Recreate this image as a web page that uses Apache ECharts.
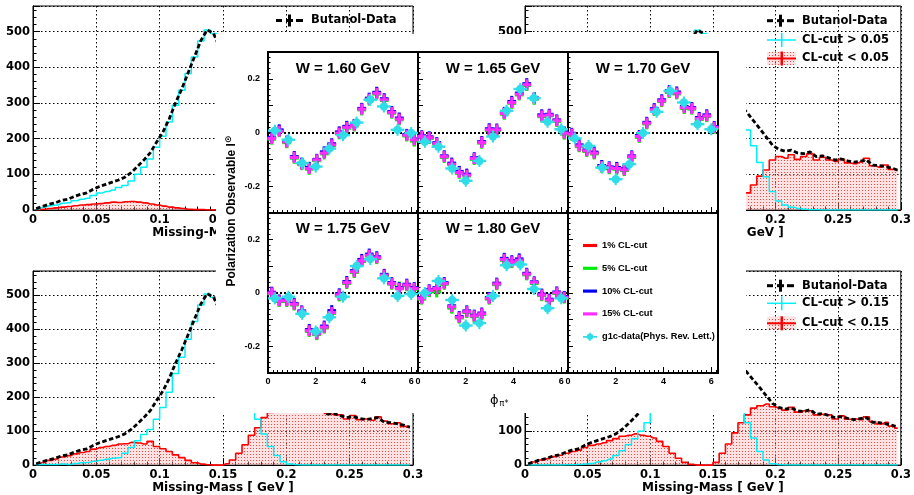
<!DOCTYPE html>
<html><head><meta charset="utf-8">
<script src="https://cdn.jsdelivr.net/npm/echarts@6.0.0/dist/echarts.min.js"></script>
<style>html,body{margin:0;padding:0;background:#fff}#c{width:914px;height:495px}</style>
</head><body><div id="c"></div>
<script>
// ---------------- Missing-mass histograms (bins of 0.005 GeV from 0 to 0.3) ----------------
const massBinWidth = 0.005;
const massTickLabels = ['0', '0.05', '0.1', '0.15', '0.2', '0.25', '0.3'];
const butanolData = [4,10,16,20,27,30,38,44,48,58, 66,72,78,84,92,105,122,140,160,190,
  218,255,300,340,385,430,475,505,495,455, 410,370,340,315,292,272,250,228,205,182,
  170,165,168,160,158,163,150,152,146,140, 143,138,134,137,140,126,125,122,118,112];
// CL-cut 0.01 (top-left)
const clAbove001 = [3,8,12,14,19,20,26,30,33,41, 48,52,56,63,69,81,100,120,143,176,
  207,247,294,336,383,429,474,505,495,455, 410,369,337,307,276,242,202,160,120,82,
  60,50,50,48,43,45,42,40,40,37, 37,38,36,37,36,33,33,28,30,27];
const clBelow001 = [1,2,4,6,8,10,12,14,15,17, 18,20,22,21,23,24,22,20,17,14,
  11,8,6,4,2,1,1,0,0,0, 0,1,3,8,16,30,48,68,85,100,
  110,115,118,112,115,118,108,112,106,103, 106,100,98,100,104,93,92,94,88,85];
// CL-cut 0.05 (top-right)
const clAbove005 = [3,6,12,16,21,24,30,35,38,45, 50,54,58,62,66,75,88,104,125,155,
  190,230,282,328,378,426,474,504,495,455, 410,367,332,299,264,224,180,133,93,52,
  25,14,8,4,2,1,1,0,0,0, 0,0,0,0,0,0,0,0,0,0];
const clBelow005 = [1,4,8,11,15,18,22,25,28,32, 35,38,40,42,44,45,46,45,42,38,
  33,27,20,14,8,4,2,1,0,0, 0,3,8,16,28,48,70,95,112,140,
  150,145,155,142,150,158,140,148,140,136, 142,132,130,135,145,124,120,126,114,110];
// CL-cut 0.10 (bottom-left)
const clAbove010 = [1,2,2,2,3,2,5,7,8,11, 14,17,20,22,35,52,72,90,105,135,
  170,215,270,318,371,423,472,504,495,455, 395,335,280,230,180,135,92,55,28,10,
  3,1,0,0,0,0,0,0,0,0, 0,0,0,0,0,0,0,0,0,0];
const clBelow010 = [3,8,14,18,24,28,33,37,40,47, 52,55,58,62,63,67,65,62,70,55,
  48,40,30,22,14,7,3,1,0,0, 4,15,35,60,88,110,140,155,162,166,
  168,160,170,156,160,158,152,148,148,136, 146,134,136,132,142,130,122,125,114,110];
// CL-cut 0.15 (bottom-right)
const clAbove015 = [0,0,0,0,0,0,1,1,2,3, 5,9,13,18,28,42,60,78,100,125,
  165,205,255,305,365,422,473,505,495,455, 400,335,278,220,170,125,80,40,15,4,
  1,0,0,0,0,0,0,0,0,0, 0,0,0,0,0,0,0,0,0,0];
const clBelow015 = [3,9,15,19,25,29,35,40,44,52, 58,62,66,72,78,85,88,92,88,85,
  80,70,55,35,20,8,2,0,0,0, 8,35,62,95,125,148,168,175,180,172,
  168,162,170,156,160,160,148,150,148,136, 145,135,136,134,142,128,121,126,115,109];

// ---------------- Polarization observable (inset) ----------------
const wTitles = ['W = 1.60 GeV', 'W = 1.65 GeV', 'W = 1.70 GeV', 'W = 1.75 GeV', 'W = 1.80 GeV'];
const phiCL = [0.157,0.471,0.785,1.100,1.414,1.728,2.042,2.356,2.670,2.985,
  3.299,3.613,3.927,4.241,4.555,4.869,5.184,5.498,5.812,6.126];
const phiG1c = [0.286,0.857,1.428,2.000,2.571,3.142,3.713,4.284,4.855,5.427,5.998];

const cl1_160  = [-0.020,0.007,-0.036,-0.091,-0.116,-0.133,-0.104,-0.075,-0.044,0.001,0.021,0.029,0.088,0.125,0.147,0.123,0.076,0.052,-0.011,-0.029];
const cl5_160  = [-0.025,0.003,-0.038,-0.096,-0.120,-0.137,-0.105,-0.080,-0.049,-0.005,0.016,0.024,0.084,0.121,0.143,0.119,0.072,0.047,-0.013,-0.032];
const cl10_160 = [-0.018,0.010,-0.032,-0.090,-0.114,-0.130,-0.100,-0.072,-0.042,0.002,0.023,0.030,0.090,0.128,0.150,0.126,0.078,0.054,-0.007,-0.024];
const cl15_160 = [-0.022,0.005,-0.035,-0.093,-0.118,-0.134,-0.102,-0.077,-0.046,-0.002,0.019,0.027,0.087,0.124,0.146,0.122,0.075,0.050,-0.010,-0.027];
const g1c_160  = [0.007,-0.027,-0.114,-0.127,-0.060,-0.010,0.037,0.122,0.097,0.010,-0.002];

const cl1_165  = [-0.016,-0.020,-0.040,-0.089,-0.117,-0.147,-0.157,-0.098,-0.036,0.011,0.009,0.072,0.111,0.144,0.176,0.126,0.063,0.064,0.045,-0.004];
const cl5_165  = [-0.018,-0.022,-0.044,-0.093,-0.121,-0.152,-0.162,-0.100,-0.040,0.007,0.007,0.068,0.109,0.140,0.175,0.124,0.059,0.062,0.041,-0.006];
const cl10_165 = [-0.012,-0.016,-0.038,-0.087,-0.114,-0.145,-0.155,-0.094,-0.034,0.014,0.013,0.075,0.116,0.147,0.182,0.130,0.066,0.068,0.047,0.002];
const cl15_165 = [-0.015,-0.019,-0.041,-0.090,-0.118,-0.149,-0.159,-0.097,-0.037,0.010,0.010,0.071,0.112,0.143,0.178,0.127,0.062,0.065,0.044,-0.002];
const g1c_165  = [-0.035,-0.053,-0.134,-0.180,-0.106,-0.015,0.081,0.162,0.128,0.040,0.012];

const cl1_170  = [-0.008,-0.051,-0.067,-0.078,-0.125,-0.133,-0.132,-0.140,-0.092,-0.016,0.034,0.086,0.117,0.150,0.145,0.092,0.091,0.050,0.061,0.018];
const cl5_170  = [-0.010,-0.053,-0.071,-0.080,-0.130,-0.135,-0.137,-0.142,-0.093,-0.018,0.032,0.082,0.115,0.149,0.144,0.090,0.087,0.049,0.059,0.016];
const cl10_170 = [-0.003,-0.046,-0.065,-0.073,-0.123,-0.128,-0.130,-0.135,-0.087,-0.011,0.038,0.089,0.122,0.156,0.151,0.097,0.093,0.056,0.066,0.022];
const cl15_170 = [-0.006,-0.050,-0.068,-0.077,-0.127,-0.131,-0.134,-0.139,-0.090,-0.015,0.035,0.085,0.118,0.152,0.147,0.093,0.090,0.052,0.062,0.019];
const g1c_170  = [-0.022,-0.050,-0.131,-0.174,-0.118,-0.002,0.077,0.155,0.112,0.031,0.012];

const cl1_175  = [-0.001,-0.030,-0.028,-0.043,-0.071,-0.142,-0.154,-0.130,-0.074,-0.009,0.037,0.079,0.120,0.141,0.131,0.066,0.035,0.016,0.029,0.016];
const cl5_175  = [-0.003,-0.032,-0.032,-0.045,-0.073,-0.144,-0.156,-0.131,-0.076,-0.011,0.036,0.077,0.118,0.139,0.129,0.064,0.033,0.022,0.027,0.014];
const cl10_175 = [0.003,-0.026,-0.026,-0.039,-0.067,-0.137,-0.150,-0.124,-0.066,-0.003,0.043,0.084,0.126,0.146,0.136,0.070,0.039,0.020,0.033,0.020];
const cl15_175 = [0.000,-0.029,-0.029,-0.042,-0.070,-0.141,-0.153,-0.128,-0.073,-0.007,0.039,0.080,0.121,0.142,0.132,0.067,0.036,0.017,0.030,0.017];
const g1c_175  = [-0.020,-0.014,-0.078,-0.144,-0.091,-0.014,0.101,0.127,0.055,-0.011,-0.004];

const cl1_180  = [-0.021,0.007,0.012,0.035,-0.054,-0.092,-0.071,-0.087,-0.079,-0.021,0.033,0.125,0.116,0.122,0.070,0.038,-0.008,-0.027,0.000,-0.017];
const cl5_180  = [-0.023,0.005,0.004,0.033,-0.057,-0.094,-0.073,-0.089,-0.081,-0.023,0.031,0.123,0.114,0.120,0.068,0.036,-0.010,-0.029,-0.002,-0.019];
const cl10_180 = [-0.017,0.012,0.020,0.039,-0.048,-0.088,-0.067,-0.083,-0.075,-0.017,0.037,0.130,0.121,0.128,0.074,0.042,-0.004,-0.023,0.004,-0.013];
const cl15_180 = [-0.020,0.009,0.017,0.036,-0.051,-0.091,-0.070,-0.086,-0.078,-0.020,0.034,0.126,0.117,0.123,0.071,0.039,-0.007,-0.026,0.001,-0.016];
const g1c_180  = [0.000,0.045,-0.026,-0.122,-0.113,-0.011,0.104,0.107,0.015,-0.057,-0.020];

const clNames = ['1% CL-cut', '5% CL-cut', '10% CL-cut', '15% CL-cut'];
const g1cName = 'g1c-data(Phys. Rev. Lett.)';

// ---------------- build chart ----------------
const pc = document.createElement('canvas'); pc.width = 3; pc.height = 3;
const pg = pc.getContext('2d');
pg.fillStyle = 'rgba(255,175,175,0.35)'; pg.fillRect(0, 0, 3, 3);
pg.fillStyle = 'rgba(255,40,40,0.85)'; pg.fillRect(1, 1, 1, 1);
const redPattern = { image: pc, repeat: 'repeat' };

const HF = 'DejaVu Sans';
const IF = 'Liberation Sans';
const CYAN = '#00f0f8';
const G1C = '#2fdde8';
const clColors = ['#ff0000', '#00ee00', '#0000ff', '#ff2bff'];

const histPanels = [
  { grid: { left: 33, top: 6, width: 380, height: 204 }, above: clAbove001, below: clBelow001, cut: '0.01' },
  { grid: { left: 525, top: 6, width: 378, height: 204 }, above: clAbove005, below: clBelow005, cut: '0.05' },
  { grid: { left: 33, top: 271, width: 380, height: 203 }, above: clAbove010, below: clBelow010, cut: '0.10' },
  { grid: { left: 525, top: 271, width: 378, height: 203 }, above: clAbove015, below: clBelow015, cut: '0.15' }
];
const insetPanels = [
  { grid: { left: 268, top: 52, width: 150, height: 161 }, cl: [cl1_160, cl5_160, cl10_160, cl15_160], g1c: g1c_160, title: wTitles[0], col: 0, row: 0 },
  { grid: { left: 418, top: 52, width: 150, height: 161 }, cl: [cl1_165, cl5_165, cl10_165, cl15_165], g1c: g1c_165, title: wTitles[1], col: 1, row: 0 },
  { grid: { left: 568, top: 52, width: 150, height: 161 }, cl: [cl1_170, cl5_170, cl10_170, cl15_170], g1c: g1c_170, title: wTitles[2], col: 2, row: 0 },
  { grid: { left: 268, top: 213, width: 150, height: 160 }, cl: [cl1_175, cl5_175, cl10_175, cl15_175], g1c: g1c_175, title: wTitles[3], col: 0, row: 1 },
  { grid: { left: 418, top: 213, width: 150, height: 160 }, cl: [cl1_180, cl5_180, cl10_180, cl15_180], g1c: g1c_180, title: wTitles[4], col: 1, row: 1 },
  { grid: { left: 568, top: 213, width: 150, height: 160 }, cl: null, g1c: null, title: null, col: 2, row: 1 }
];

const grids = [], xAxes = [], yAxes = [], series = [];
const histLabel = { fontFamily: HF, fontWeight: 'bold', fontSize: 11.5, color: '#000' };
const dotted = { color: '#000', type: [1.5, 2.5], width: 1 };

histPanels.forEach((p, i) => {
  grids.push(Object.assign({ show: true, borderColor: '#000', borderWidth: 1, backgroundColor: 'transparent', z: 0 }, p.grid));
  xAxes.push({
    type: 'value', gridIndex: i, min: 0, max: 0.3, interval: 0.05, z: 0,
    axisLine: { show: true, onZero: false, lineStyle: { color: '#000', width: 1 } },
    axisTick: { inside: true, length: 7, lineStyle: { color: '#000' } },
    minorTick: { show: true, splitNumber: 5, length: 3.5, lineStyle: { color: '#000' } },
    splitLine: { show: true, lineStyle: dotted },
    axisLabel: Object.assign({ margin: 4, formatter: v => massTickLabels[Math.round(v / 0.05)] || '' }, histLabel),
    name: 'Missing-Mass [ GeV ]', nameLocation: 'middle', nameGap: 10,
    nameTextStyle: { fontFamily: HF, fontWeight: 'bold', fontSize: 12, color: '#000' }
  });
  yAxes.push({
    type: 'value', gridIndex: i, min: 0, max: 572, interval: 100, z: 0,
    axisLine: { show: true, onZero: false, lineStyle: { color: '#000', width: 1 } },
    axisTick: { inside: true, length: 7, lineStyle: { color: '#000' } },
    minorTick: { show: true, splitNumber: 5, length: 3.5, lineStyle: { color: '#000' } },
    splitLine: { show: true, lineStyle: dotted },
    axisLabel: Object.assign({ margin: 3, showMaxLabel: false }, histLabel)
  });
  const pts = arr => arr.map((v, k) => [massBinWidth * (k + 0.5), v]);
  series.push({
    name: 'CL-cut < ' + p.cut, type: 'line', step: 'middle', xAxisIndex: i, yAxisIndex: i, z: 1,
    data: pts(p.below), symbol: 'none', silent: true,
    lineStyle: { color: '#ff0000', width: 1.6 }, areaStyle: { color: redPattern, opacity: 1 }
  });
  series.push({
    name: 'CL-cut > ' + p.cut, type: 'line', step: 'middle', xAxisIndex: i, yAxisIndex: i, z: 1,
    data: pts(p.above), symbol: 'none', silent: true,
    lineStyle: { color: CYAN, width: 1.5 }
  });
  series.push({
    name: 'Butanol-Data', type: 'line', xAxisIndex: i, yAxisIndex: i, z: 2,
    data: pts(butanolData), symbol: 'none', silent: true,
    lineStyle: { color: '#000', width: 2.8, type: [4.5, 2.5] }
  });
});

function crossRender(color) {
  return function (params, api) {
    const c = api.coord([api.value(0), api.value(1)]);
    const hw = api.size([0.157, 0])[0] + 0.6;
    return { type: 'group', children: [
      { type: 'rect', shape: { x: c[0] - hw, y: c[1] - 1.5, width: 2 * hw, height: 3 }, style: { fill: color } },
      { type: 'rect', shape: { x: c[0] - 1.5, y: c[1] - 5.5, width: 3, height: 11 }, style: { fill: color } }
    ] };
  };
}
function g1cRender(params, api) {
  const c = api.coord([api.value(0), api.value(1)]);
  const hw = api.size([0.2856, 0])[0];
  return { type: 'group', children: [
    { type: 'rect', shape: { x: c[0] - hw, y: c[1] - 1.2, width: 2 * hw, height: 2.4 }, style: { fill: G1C } },
    { type: 'rect', shape: { x: c[0] - 1, y: c[1] - 6, width: 2, height: 12 }, style: { fill: G1C } },
    { type: 'circle', shape: { cx: c[0], cy: c[1], r: 4.2 }, style: { fill: G1C } }
  ] };
}

const insetLabel = { fontFamily: IF, fontWeight: 'bold', fontSize: 9, color: '#000' };
insetPanels.forEach((p, j) => {
  const gi = 4 + j;
  grids.push(Object.assign({ show: true, borderColor: '#000', borderWidth: 2, backgroundColor: 'transparent', z: 4 }, p.grid));
  xAxes.push({
    type: 'value', gridIndex: gi, min: 0, max: 6.2832, interval: 2, z: 4, position: 'bottom',
    axisLine: { show: false, onZero: false },
    axisTick: { inside: true, length: 6, lineStyle: { color: '#000' } },
    minorTick: { show: true, splitNumber: 10, length: 3, lineStyle: { color: '#000' } },
    splitLine: { show: false },
    axisLabel: Object.assign({ show: p.row === 1, margin: 4, showMaxLabel: false,
      formatter: v => { const r = Math.round(v); return (Math.abs(v - r) < 1e-6 && r % 2 === 0) ? String(r) : ''; } }, insetLabel)
  });
  yAxes.push({
    type: 'value', gridIndex: gi, min: -0.3, max: 0.3, interval: 0.1, z: 4, position: 'left',
    axisLine: { show: false, onZero: false },
    axisTick: { inside: true, length: 5, lineStyle: { color: '#000' } },
    minorTick: { show: true, splitNumber: 5, length: 2.5, lineStyle: { color: '#000' } },
    splitLine: { show: false },
    axisLabel: Object.assign({ show: p.col === 0, margin: 8,
      formatter: v => { const k = Math.round(v * 10); return (k % 2 === 0) ? (k === 0 ? '0' : (k / 10).toString()) : ''; } }, insetLabel)
  });
  if (p.cl) {
    p.cl.forEach((arr, s) => {
      const ser = {
        name: clNames[s], type: 'custom', coordinateSystem: 'cartesian2d', xAxisIndex: gi, yAxisIndex: gi,
        z: 5 + s * 0.1, silent: true, itemStyle: { color: clColors[s] },
        renderItem: crossRender(clColors[s]),
        data: arr.map((v, k) => [phiCL[k], v])
      };
      if (s === 0) {
        ser.markLine = { silent: true, symbol: ['none', 'none'], label: { show: false },
          lineStyle: { color: '#000', type: [2, 2], width: 2 }, data: [{ yAxis: 0 }] };
      }
      series.push(ser);
    });
    series.push({
      name: g1cName, type: 'custom', coordinateSystem: 'cartesian2d', xAxisIndex: gi, yAxisIndex: gi,
      z: 6, silent: true, itemStyle: { color: G1C }, renderItem: g1cRender,
      data: p.g1c.map((v, k) => [phiG1c[k], v])
    });
  }
});

// legend-like graphics for the histogram panels
function butanolIcon(x0, y) {
  return [
    { type: 'rect', shape: { x: x0, y: y - 1.5, width: 6, height: 3 }, style: { fill: '#000' }, z: 3 },
    { type: 'rect', shape: { x: x0 + 10, y: y - 1.5, width: 7, height: 3 }, style: { fill: '#000' }, z: 3 },
    { type: 'rect', shape: { x: x0 + 12, y: y - 6, width: 3, height: 12 }, style: { fill: '#000' }, z: 3 },
    { type: 'rect', shape: { x: x0 + 20, y: y - 1.5, width: 7, height: 3 }, style: { fill: '#000' }, z: 3 }
  ];
}
function cyanIcon(x0, y) {
  return [
    { type: 'rect', shape: { x: x0, y: y - 0.75, width: 29, height: 1.5 }, style: { fill: CYAN }, z: 3 },
    { type: 'rect', shape: { x: x0 + 14, y: y - 7, width: 1.5, height: 14 }, style: { fill: CYAN }, z: 3 }
  ];
}
function redIcon(x0, y) {
  return [
    { type: 'rect', shape: { x: x0, y: y - 6.5, width: 29, height: 13 }, style: { fill: redPattern }, z: 3 },
    { type: 'rect', shape: { x: x0, y: y - 1, width: 29, height: 2 }, style: { fill: '#ff0000' }, z: 3 },
    { type: 'rect', shape: { x: x0 + 13.5, y: y - 7, width: 2.5, height: 14 }, style: { fill: '#ff0000' }, z: 3 }
  ];
}
function legText(x, y, t) {
  return { type: 'text', x: x, y: y, z: 3,
    style: { text: t, font: 'bold 11.5px "DejaVu Sans"', fill: '#000', textAlign: 'left', textVerticalAlign: 'middle', align: 'left', verticalAlign: 'middle' } };
}
const gEls = [];
gEls.push(...butanolIcon(276, 20.5), legText(311, 20.5, 'Butanol-Data'));
[[767, [20.7, 40, 58.5], '0.05'], [767, [285.7, 303.3, 323.3], '0.15']].forEach(([x0, ys, cut]) => {
  gEls.push(...butanolIcon(x0, ys[0]), legText(x0 + 35, ys[0], 'Butanol-Data'));
  gEls.push(...cyanIcon(x0, ys[1]), legText(x0 + 35, ys[1], 'CL-cut > ' + cut));
  gEls.push(...redIcon(x0, ys[2]), legText(x0 + 35, ys[2], 'CL-cut < ' + cut));
});
// white inset background
gEls.push({ type: 'rect', shape: { x: 216, y: 34, width: 530, height: 379 }, style: { fill: '#fff' }, z: 3, silent: true });
// inset titles
insetPanels.forEach(p => {
  if (!p.title) return;
  gEls.push({ type: 'text', x: p.grid.left + p.grid.width / 2, y: p.row === 0 ? 68.5 : 229, z: 10,
    style: { text: p.title, font: 'bold 15px "Liberation Sans"', fill: '#000', textAlign: 'center', textVerticalAlign: 'middle', align: 'center', verticalAlign: 'middle' } });
});
gEls.push({ type: 'text', x: 232, y: 211, rotation: Math.PI / 2, z: 10,
  style: { text: 'Polarization Observable I{s|⊙}', font: 'bold 12px "Liberation Sans"', fill: '#000',
    textAlign: 'center', textVerticalAlign: 'middle', align: 'center', verticalAlign: 'middle',
    rich: { s: { fontSize: 9, fontWeight: 'bold', fontFamily: 'DejaVu Sans', padding: [0, 0, 6, 0] } } } });
gEls.push({ type: 'text', x: 490, y: 401, z: 10,
  style: { text: '{a|ϕ}{b|π*}', fill: '#000', textAlign: 'left', textVerticalAlign: 'middle', align: 'left', verticalAlign: 'middle',
    rich: { a: { fontSize: 13, fontFamily: 'DejaVu Sans' }, b: { fontSize: 8, fontFamily: 'DejaVu Sans', padding: [6, 0, 0, 1] } } } });

const lineIcon = 'path://M0,0h20v4.5h-20z';
const g1cIcon = 'path://M0,5h20v2.4h-20z M9,0h2v12h-2z M10,1.6a4.5,4.5 0 1 1 0,9a4.5,4.5 0 1 1 0,-9z';

const chart = echarts.init(document.getElementById('c'), null, { renderer: 'canvas' });
chart.setOption({
  animation: false,
  backgroundColor: '#fff',
  grid: grids, xAxis: xAxes, yAxis: yAxes, series: series,
  graphic: { elements: gEls },
  legend: [{
    orient: 'vertical', left: 578, top: 236, itemWidth: 14, itemHeight: 12, itemGap: 13.8,
    selectedMode: false, z: 10,
    textStyle: { fontFamily: IF, fontWeight: 'bold', fontSize: 9.3, color: '#000' },
    data: clNames.map(n => ({ name: n, icon: lineIcon })).concat([{ name: g1cName, icon: g1cIcon }])
  }]
});
</script></body></html>
